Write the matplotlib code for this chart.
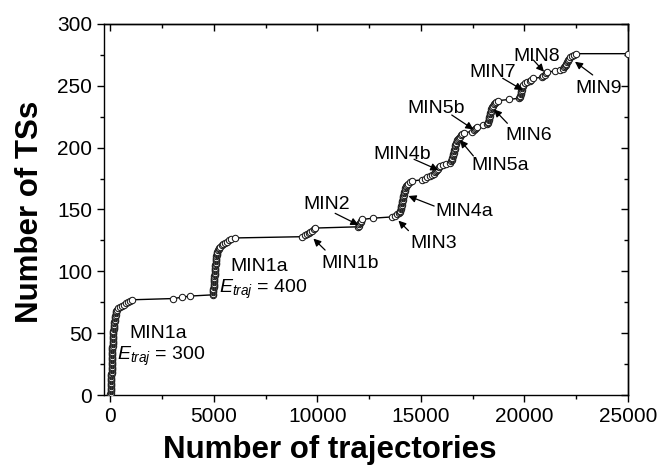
import numpy as np
import matplotlib
matplotlib.use('Agg')
import matplotlib.pyplot as plt
from matplotlib.ticker import MultipleLocator

plt.rcParams['font.family'] = ['Liberation Sans', 'DejaVu Sans']
plt.rcParams['mathtext.fontset'] = 'custom'
plt.rcParams['mathtext.rm'] = 'Liberation Sans'
plt.rcParams['mathtext.it'] = 'Liberation Sans:italic'

# trajectory index at which each new TS was found (one entry per TS)
min1a_300 = [10, 14, 18, 22, 26, 30, 33, 36, 39, 42,
             45, 48, 51, 54, 57, 60, 62, 64, 66, 68,
             70, 72, 74, 76, 78, 80, 82, 84, 86, 88,
             90, 92, 94, 96, 98, 100, 103, 106, 109, 112,
             115, 118, 121, 124, 127, 130, 134, 138, 142, 146,
             150, 155, 160, 166, 172, 178, 185, 192, 200, 208,
             216, 225, 235, 245, 256, 268, 282, 300, 330, 370,
             450, 550, 650, 760, 870, 960, 1060]
gap_1 = [3050, 3450, 3850]
min1a_400 = [4950, 4960, 4970, 4975, 4980, 4985, 4990, 4995, 5000, 5005,
             5010, 5015, 5020, 5025, 5030, 5035, 5040, 5045, 5050, 5055,
             5060, 5065, 5070, 5075, 5080, 5085, 5090, 5095, 5100, 5110,
             5120, 5130, 5140, 5150, 5165, 5180, 5200, 5230, 5270, 5320,
             5380, 5450, 5530, 5620, 5720, 5850, 6020]
min1b = [9250, 9400, 9500, 9580, 9660, 9740, 9820, 9900]
min2 = [11950, 12000, 12030, 12060, 12090, 12120, 12170, 12710]
min3 = [13600, 13750, 13850, 13950]
min4a = [14000, 14012, 14024, 14036, 14048, 14060, 14072, 14084, 14096, 14108,
         14120, 14132, 14144, 14156, 14168, 14180, 14195, 14210, 14225, 14240,
         14260, 14290, 14330, 14380, 14460, 14560]
min4b = [15040, 15200, 15300, 15440, 15560, 15640, 15700, 15740, 15780, 15830,
         15880, 15940, 16050, 16200, 16400]
min5a = [16470, 16490, 16505, 16520, 16535, 16550, 16565, 16580, 16595, 16610,
         16625, 16640, 16655, 16670, 16690, 16710, 16735, 16765, 16800, 16840,
         16890, 16940, 17000, 17060]
min5b = [17450, 17550, 17620, 17680, 17730, 18010, 18180]
min6 = [18230, 18250, 18265, 18280, 18295, 18310, 18325, 18340, 18355, 18370,
        18385, 18400, 18420, 18445, 18475, 18510, 18560, 18620, 18700, 19270]
min7 = [19750, 19790, 19800, 19810, 19820, 19835, 19850, 19865, 19880, 19900,
        19920, 19950, 20010, 20140, 20250, 20340, 20430]
min8 = [20850, 20920, 20980, 21030, 21075, 21475, 21720, 21880]
min9 = [21920, 21960, 21990, 22020, 22050, 22080, 22110, 22150, 22200, 22280,
        22380, 22490]
last_traj = 25000

traj = np.array(min1a_300 + gap_1 + min1a_400 + min1b + min2 + min3 + min4a
                + min4b + min5a + min5b + min6 + min7 + min8 + min9, dtype=float)
n_ts = np.arange(1, len(traj) + 1)
traj = np.append(traj, last_traj)
n_ts = np.append(n_ts, n_ts[-1])

# label text, text position (left, baseline), arrow start, arrow tip
labels = [
    ('MIN1a', (930, 45.8), None, None),
    (r'$E_{traj}$ = 300', (320, 28.3), None, None),
    ('MIN1a', (5790, 100.5), None, None),
    (r'$E_{traj}$ = 400', (5230, 82.2), None, None),
    ('MIN1b', (10215, 102.4), (10375, 117.2), (9810, 126.5)),
    ('MIN2', (9330, 150.1), (10860, 146.9), (11985, 137.5)),
    ('MIN3', (14480, 118.6), (14400, 132.9), (13915, 141.0)),
    ('MIN4a', (15685, 144.7), (15640, 152.8), (14400, 160.9)),
    ('MIN4b', (12710, 190.5), (14670, 190.6), (15845, 181.9)),
    ('MIN5a', (17455, 181.9), (17535, 193.3), (16890, 206.2)),
    ('MIN5b', (14367, 227.8), (16490, 226.4), (17535, 214.8)),
    ('MIN6', (19060, 206.2), (19175, 219.7), (18530, 231.0)),
    ('MIN7', (17340, 257.4), (18950, 256.1), (19915, 246.6)),
    ('MIN8', (19465, 270.3), (20430, 270.9), (20945, 261.4)),
    ('MIN9', (22440, 244.0), (23295, 258.8), (22440, 269.5)),
]

fig = plt.figure(figsize=(6.59, 4.73), dpi=100)
ax = fig.add_axes([104 / 659, 78 / 473, 524 / 659, 371 / 473])

ax.plot(traj, n_ts, '-', color='k', lw=1.0, marker='o', ms=4.6,
        mfc='white', mec='#1a1a1a', mew=0.75, zorder=3)

for text, pos, start, tip in labels:
    ax.text(pos[0], pos[1], text, fontsize=14, ha='left', va='baseline')
    if start is not None:
        ax.annotate('', xy=tip, xytext=start,
                    arrowprops=dict(arrowstyle='-|>', color='k', lw=0.9,
                                    mutation_scale=11, shrinkA=0, shrinkB=0))

ax.set_xlim(-300, 25000)
ax.set_ylim(0, 300)
ax.xaxis.set_major_locator(MultipleLocator(5000))
ax.xaxis.set_minor_locator(MultipleLocator(2500))
ax.yaxis.set_major_locator(MultipleLocator(50))
ax.yaxis.set_minor_locator(MultipleLocator(25))
ax.tick_params(which='both', direction='out', top=False, right=False,
               labelsize=15, width=1.0)
ax.tick_params(which='major', length=5)
ax.tick_params(which='minor', length=3)

top = ax.secondary_xaxis('top')
top.xaxis.set_major_locator(MultipleLocator(5000))
top.xaxis.set_minor_locator(MultipleLocator(2500))
top.tick_params(which='both', direction='in', labeltop=False, width=1.0)
top.tick_params(which='major', length=5)
top.tick_params(which='minor', length=3)
right = ax.secondary_yaxis('right')
right.yaxis.set_major_locator(MultipleLocator(50))
right.yaxis.set_minor_locator(MultipleLocator(25))
right.tick_params(which='both', direction='in', labelright=False, width=1.0)
right.tick_params(which='major', length=5)
right.tick_params(which='minor', length=3)

for sp in list(ax.spines.values()) + [top.spines['top'], right.spines['right']]:
    sp.set_linewidth(1.0)

ax.set_xlabel('Number of trajectories', fontsize=22.5, fontweight='bold')
ax.xaxis.set_label_coords((330 - 104) / 524, -0.148)
ax.xaxis.label.set_va('center')
ax.set_ylabel('Number of TSs', fontsize=22.5, fontweight='bold')
ax.yaxis.set_label_coords(-0.142, (395 - 212) / 371)
ax.yaxis.label.set_va('center')

fig.savefig('out.png', dpi=100)
